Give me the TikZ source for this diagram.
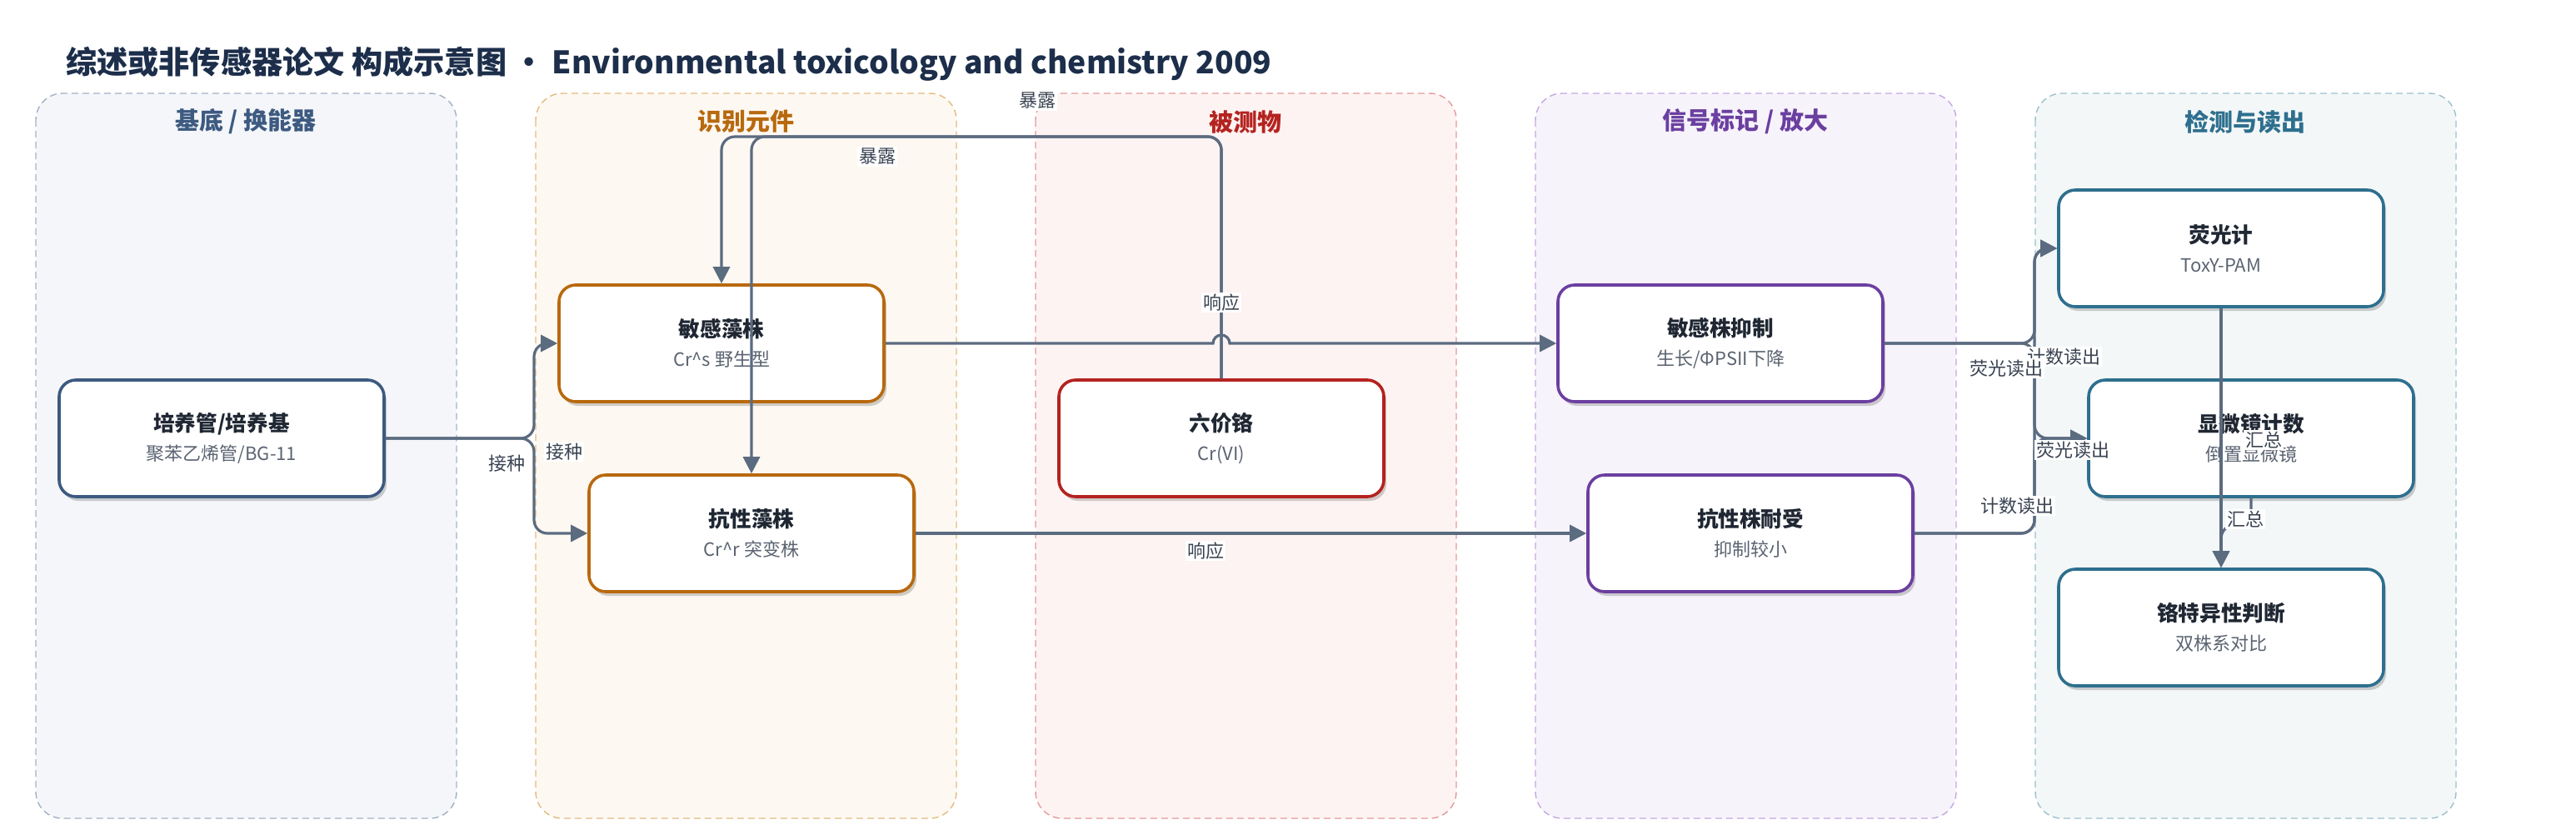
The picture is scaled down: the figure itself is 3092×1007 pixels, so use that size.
\documentclass[tikz,border=0pt]{standalone}
\usepackage{fontspec}
\setmainfont{Noto Sans CJK SC}
\usetikzlibrary{arrows.meta,shadows}
\definecolor{edgecol}{HTML}{5B6B80}
\definecolor{lbltxt}{HTML}{3A4352}
\definecolor{nodetxt}{HTML}{1F2733}
\definecolor{subtxt}{HTML}{5B6472}
\definecolor{titletxt}{HTML}{1C2E4A}
\definecolor{basecol}{HTML}{3D5A80}
\definecolor{basefill}{HTML}{F4F6FA}
\definecolor{baseline}{HTML}{A3B1C6}
\definecolor{reccol}{HTML}{B8690E}
\definecolor{recfill}{HTML}{FDF8F1}
\definecolor{recline}{HTML}{E3BC80}
\definecolor{anacol}{HTML}{B42320}
\definecolor{anafill}{HTML}{FDF3F2}
\definecolor{analine}{HTML}{E39A9A}
\definecolor{sigcol}{HTML}{6B3FA0}
\definecolor{sigfill}{HTML}{F7F3FB}
\definecolor{sigline}{HTML}{C5A8E0}
\definecolor{detcol}{HTML}{2E6F8E}
\definecolor{detfill}{HTML}{F3F7F8}
\definecolor{detline}{HTML}{9DC0CD}
\newcommand{\subtext}{\color{subtxt}\fontsize{11}{17.5}\selectfont}

\begin{document}
\begin{tikzpicture}[x=0.5pt,y=0.5pt]
\tikzstyle{panel}=[dash pattern=on 4pt off 2.5pt, line width=0.7pt, rounded corners=16pt]
\tikzstyle{ptitle}=[font=\fontsize{14.5}{17}\selectfont\bfseries]
\tikzstyle{box}=[draw, fill=white, line width=1.8pt, rounded corners=10pt, minimum width=195pt, minimum height=70pt, align=center, text=nodetxt, font=\fontsize{12.8}{17.5}\selectfont, drop shadow={shadow xshift=1.5pt, shadow yshift=-2.5pt, opacity=0.18, fill=black}]
\tikzstyle{edge}=[draw=edgecol, line width=1.6pt, rounded corners=8pt]
\tikzstyle{tip}=[-{Triangle[length=10pt,width=10pt]}]
\tikzstyle{lbl}=[fill=white, inner sep=1pt, text=lbltxt, font=\fontsize{11}{13}\selectfont]
\useasboundingbox (0,0) rectangle (3092,-1007);
\node [anchor=west, text=titletxt, font=\fontsize{18.6}{22}\selectfont\bfseries] (title) at (72,-77) {综述或非传感器论文 构成示意图 • Environmental toxicology and chemistry 2009};
\draw [panel, draw=baseline, fill=basefill] (43,-112) rectangle (548,-982);
\draw [panel, draw=recline, fill=recfill] (643,-112) rectangle (1148,-982);
\draw [panel, draw=analine, fill=anafill] (1243,-112) rectangle (1748,-982);
\draw [panel, draw=sigline, fill=sigfill] (1843,-112) rectangle (2348,-982);
\draw [panel, draw=detline, fill=detfill] (2443,-112) rectangle (2948,-982);
\node [ptitle, text=basecol] (tbase) at (295,-146) {基底 / 换能器};
\node [ptitle, text=reccol] (trec) at (895,-146) {识别元件};
\node [ptitle, text=anacol] (tana) at (1495,-146) {被测物};
\node [ptitle, text=sigcol] (tsig) at (2095,-146) {信号标记 / 放大};
\node [ptitle, text=detcol] (tdet) at (2695,-146) {检测与读出};
\node [box, draw=basecol] (base) at (266,-526) {\textbf{培养管/培养基}\\{\subtext 聚苯乙烯管/BG-11}};
\node [box, draw=reccol] (sens) at (866,-412) {\textbf{敏感藻株}\\{\subtext Cr\^{}s 野生型}};
\node [box, draw=reccol] (resi) at (902,-640) {\textbf{抗性藻株}\\{\subtext Cr\^{}r 突变株}};
\node [box, draw=anacol] (cr) at (1466,-526) {\textbf{六价铬}\\{\subtext Cr(VI)}};
\node [box, draw=sigcol] (inh) at (2065,-412) {\textbf{敏感株抑制}\\{\subtext 生长/ΦPSII下降}};
\node [box, draw=sigcol] (tol) at (2101,-640) {\textbf{抗性株耐受}\\{\subtext 抑制较小}};
\node [box, draw=detcol] (fluo) at (2666,-298) {\textbf{荧光计}\\{\subtext ToxY-PAM}};
\node [box, draw=detcol] (micro) at (2702,-526) {\textbf{显微镜计数}\\{\subtext 倒置显微镜}};
\node [box, draw=detcol] (judge) at (2666,-753) {\textbf{铬特异性判断}\\{\subtext 双株系对比}};
\coordinate (fork) at (641,-526);
\coordinate (expo) at (1466,-164);
\coordinate (hop) at (1456,-412);
\coordinate (readA) at (2442,-412);
\coordinate (readB) at (2442,-640);
\coordinate (sum) at (2702,-630);
\draw [edge, tip] (base.east) -- (fork) |- (sens.west);
\draw [edge, tip] (base.east) -- (fork) |- (resi.west);
\draw [edge, tip] (cr.north) -- (expo) -| (sens.north);
\draw [edge, tip] (cr.north) -- (expo) -| (resi.north);
\draw [edge, tip, sharp corners] (sens.east) -- (hop) arc[start angle=180, end angle=0, radius=10] -- (inh.west);
\draw [edge, tip] (resi.east) -- (tol.west);
\draw [edge, tip] (inh.east) -- (readA) |- (fluo.west);
\draw [edge, tip] (inh.east) -- (readA) |- (micro.west);
\draw [edge, tip] (tol.east) -- (readB) |- (fluo.west);
\draw [edge, tip] (tol.east) -- (readB) |- (micro.west);
\draw [edge, tip] (fluo.south) -- (judge.north);
\draw [edge, tip] (micro.south) -- (sum) -| (judge.north);
\node [lbl] (lbA) at (677,-542) {接种};
\node [lbl] (lbB) at (608,-556) {接种};
\node [lbl] (lbC) at (1245,-121) {暴露};
\node [lbl] (lbD) at (1053,-188) {暴露};
\node [lbl] (lbE) at (1466,-363) {响应};
\node [lbl] (lbF) at (1447,-661) {响应};
\node [lbl] (lbG) at (2477,-428) {计数读出};
\node [lbl] (lbH) at (2408,-442) {荧光读出};
\node [lbl] (lbI) at (2488,-540) {荧光读出};
\node [lbl] (lbJ) at (2421,-607) {计数读出};
\node [lbl] (lbK) at (2717,-528) {汇总};
\node [lbl] (lbL) at (2695,-623) {汇总};
\end{tikzpicture}
\end{document}
